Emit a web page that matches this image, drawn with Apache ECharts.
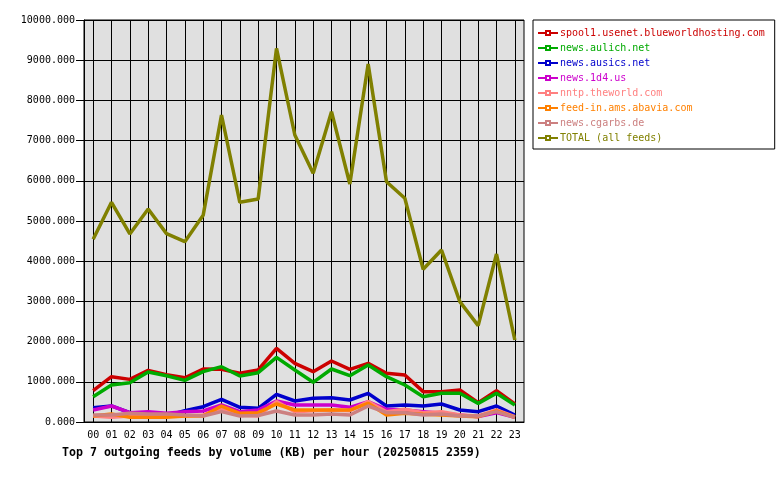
<!DOCTYPE html>
<html><head><meta charset="utf-8">
<script src="https://cdn.jsdelivr.net/npm/echarts@6/dist/echarts.min.js"></script>
<style>html,body{margin:0;padding:0;background:#fff}#c{width:780px;height:480px}</style>
</head><body><div id="c"></div>
<script>
const hours = ['00','01','02','03','04','05','06','07','08','09','10','11','12','13','14','15','16','17','18','19','20','21','22','23'];
const feedNames = ['spool1.usenet.blueworldhosting.com','news.aulich.net','news.ausics.net','news.1d4.us','nntp.theworld.com','feed-in.ams.abavia.com','news.cgarbs.de','TOTAL (all feeds)'];
const spool1 = [780,1128,1060,1285,1175,1100,1318,1310,1211,1294,1833,1459,1252,1517,1310,1459,1211,1169,755,755,796,481,780,448];
const aulich = [630,920,978,1245,1152,1035,1252,1376,1144,1227,1609,1294,987,1318,1152,1418,1128,920,630,713,713,464,713,423];
const ausics = [357,400,235,180,160,280,381,564,365,340,688,522,589,605,547,713,398,423,398,448,298,257,398,174];
const d4us = [300,398,232,257,216,257,274,423,257,298,522,423,423,423,365,506,315,298,257,216,174,133,232,116];
const theworld = [150,116,150,160,150,150,174,315,174,150,506,257,282,298,282,506,257,315,232,257,174,150,298,133];
const abavia = [150,200,116,116,116,150,150,398,216,232,448,298,298,298,298,464,174,216,191,174,150,133,274,116];
const cgarbs = [174,174,216,200,200,174,150,257,150,160,274,174,174,200,174,398,232,232,174,200,150,150,257,116];
const total = [4545,5465,4677,5299,4685,4486,5141,7637,5465,5547,9295,7139,6186,7720,5920,8905,5978,5565,3798,4279,2993,2396,4179,2040];
const yTicks = [0,1000,2000,3000,4000,5000,6000,7000,8000,9000,10000];

const seriesData = [spool1, aulich, ausics, d4us, theworld, abavia, cgarbs, total];
const colors = ['#cc0000','#00aa00','#0000cc','#cc00cc','#ff8080','#ff8000','#cc8080','#808000'];
const FONT = 'DejaVu Sans Mono';

const chart = echarts.init(document.getElementById('c'), null, {renderer:'canvas'});
chart.setOption({
  animation: false,
  backgroundColor: '#ffffff',
  title: {
    text: 'Top 7 outgoing feeds by volume (KB) per hour (20250815 2359)',
    left: 57, top: 442,
    textStyle: {fontFamily: FONT, fontSize: 11.6, fontWeight: 'bold', color: '#000'}
  },
  legend: {
    orient: 'vertical', left: 533, top: 20,
    backgroundColor: '#fff', borderColor: '#000', borderWidth: 1,
    padding: [8, 10, 6, 4],
    itemWidth: 20, itemHeight: 5, itemGap: 5,
    data: feedNames.map((n, i) => ({name: n, textStyle: {color: colors[i]}})),
    textStyle: {fontFamily: FONT, fontSize: 10, padding: [0,0,0,-3]}
  },
  grid: {left: 84, right: 256, top: 20, bottom: 58, show: true, backgroundColor: '#e0e0e0', borderColor: '#000', borderWidth: 1},
  xAxis: {
    type: 'category', data: hours, boundaryGap: true,
    axisLine: {lineStyle: {color: '#000', width: 1}},
    axisTick: {alignWithLabel: true, length: 5, lineStyle: {color: '#000'}},
    axisLabel: {fontFamily: FONT, fontSize: 10, color: '#000', margin: 8},
    splitLine: {show: true, alignWithLabel: true, lineStyle: {color: '#000', width: 1}}
  },
  yAxis: {
    type: 'value', min: yTicks[0], max: yTicks[yTicks.length-1], interval: 1000,
    axisLine: {show: true, lineStyle: {color: '#000'}},
    axisTick: {show: true, length: 8, lineStyle: {color: '#000'}},
    axisLabel: {fontFamily: FONT, fontSize: 10, color: '#000', margin: 9, formatter: v => v.toFixed(3)},
    splitLine: {show: true, lineStyle: {color: '#000', width: 1}}
  },
  series: feedNames.map((n, i) => ({
    name: n, type: 'line', data: seriesData[i],
    color: colors[i],
    symbol: 'emptyRect', symbolSize: 4, showSymbol: false,
    lineStyle: {width: 3.5, color: colors[i]},
    itemStyle: {color: colors[i]}
  }))
});
</script></body></html>
